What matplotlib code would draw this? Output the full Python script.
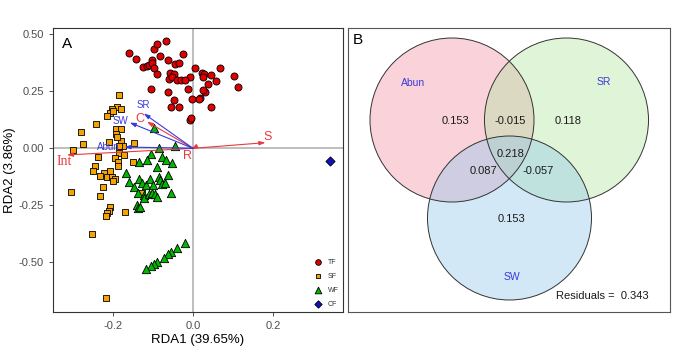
import matplotlib
matplotlib.use("Agg")
import matplotlib.pyplot as plt
from matplotlib.patches import Circle

plt.rcParams['font.family'] = ['Liberation Sans', 'DejaVu Sans']

# ---------------- data: RDA site scores ----------------
tf_x = [-0.161, -0.143, -0.125, -0.115, -0.109, -0.102, -0.102, -0.097, -0.090, -0.097,
        -0.090, -0.067, -0.083, -0.063, -0.044, -0.034, -0.025, -0.058, -0.047, -0.061,
        -0.052, -0.040, -0.030, -0.007, 0.006, 0.023, 0.027, 0.025, 0.045, 0.067,
        0.037, 0.031, 0.025, 0.018, 0.016, 0.058, 0.102, 0.112, -0.105, -0.063,
        -0.048, -0.054, -0.034, -0.013, -0.003, 0.045, -0.008, -0.004, -0.019]
tf_y = [0.417, 0.390, 0.358, 0.361, 0.365, 0.387, 0.373, 0.351, 0.326, 0.436,
        0.456, 0.471, 0.405, 0.387, 0.368, 0.373, 0.414, 0.329, 0.326, 0.303,
        0.312, 0.300, 0.300, 0.314, 0.351, 0.332, 0.326, 0.314, 0.322, 0.351,
        0.282, 0.249, 0.256, 0.219, 0.215, 0.297, 0.317, 0.270, 0.259, 0.249,
        0.212, 0.180, 0.180, 0.259, 0.215, 0.180, 0.124, 0.135, 0.300]

sf_x = [-0.186, -0.189, -0.203, -0.207, -0.199, -0.179, -0.214, -0.242, -0.193, -0.179,
        -0.192, -0.280, -0.275, -0.301, -0.211, -0.179, -0.148, -0.176, -0.184, -0.186,
        -0.237, -0.194, -0.188, -0.187, -0.244, -0.249, -0.222, -0.232, -0.207, -0.215,
        -0.203, -0.194, -0.199, -0.226, -0.305, -0.232, -0.207, -0.211, -0.215, -0.218,
        -0.169, -0.252, -0.218, -0.172, -0.151, -0.128, -0.190]
sf_y = [0.232, 0.183, 0.172, 0.156, 0.165, 0.172, 0.142, 0.107, 0.083, 0.083,
        0.063, 0.070, 0.018, -0.007, 0.026, 0.032, 0.022, 0.010, 0.010, -0.022,
        -0.040, -0.044, -0.059, -0.078, -0.078, -0.098, -0.107, -0.121, -0.100, -0.127,
        -0.127, -0.136, -0.142, -0.168, -0.192, -0.209, -0.259, -0.274, -0.285, -0.297,
        -0.281, -0.376, -0.658, -0.031, -0.058, -0.197, 0.050]

wf_x = [-0.097, -0.086, -0.046, -0.104, -0.115, -0.078, -0.068, -0.053, -0.090, -0.136,
        -0.167, -0.161, -0.148, -0.136, -0.128, -0.118, -0.107, -0.100, -0.086, -0.083,
        -0.078, -0.069, -0.0625, -0.138, -0.123, -0.122, -0.111, -0.102, -0.094, -0.090,
        -0.055, -0.140, -0.138, -0.133,
        -0.019, -0.040, -0.055, -0.0635, -0.0735, -0.090, -0.097, -0.105, -0.117]
wf_y = [0.088, 0.000, 0.010, -0.026, -0.051, -0.037, -0.051, -0.066, -0.080, -0.058,
        -0.107, -0.146, -0.168, -0.136, -0.154, -0.161, -0.136, -0.161, -0.124, -0.139,
        -0.156, -0.151, -0.117, -0.197, -0.205, -0.219, -0.200, -0.197, -0.200, -0.212,
        -0.197, -0.249, -0.263, -0.256,
        -0.414, -0.439, -0.456, -0.465, -0.480, -0.500, -0.507, -0.516, -0.531]

cf_x = [0.343]
cf_y = [-0.057]

# environmental / response vectors
vec_names = ['S', 'Int', 'C', 'R', 'SR', 'SW', 'Abun']
vec_x = [0.181, -0.315, -0.115, -0.004, -0.123, -0.158, -0.171]
vec_y = [0.025, -0.029, 0.117, -0.004, 0.153, 0.113, 0.006]
vec_group = ['red', 'red', 'red', 'red', 'blue', 'blue', 'blue']

# variation partitioning values
venn_sets = ['Abun', 'SR', 'SW']
venn_values = ['0.153', '-0.015', '0.118', '0.218', '0.087', '-0.057', '0.153']
residual = '0.343'

# ---------------- figure ----------------
W, H = 700, 350
fig = plt.figure(figsize=(7, 3.5), dpi=100)

# ---- panel A ----
axA = fig.add_axes([53 / W, (H - 312) / H, 290 / W, 284 / H])
axA.set_xlim(-0.35, 0.375)
axA.set_ylim(-0.718, 0.528)
axA.axhline(0, color='#BEBEBE', lw=1.4, zorder=0)
axA.axvline(0, color='#BEBEBE', lw=1.4, zorder=0)

RED = '#E8393E'
BLUE = '#3A3ADB'
colmap = {'red': RED, 'blue': BLUE}
label_off = {'S': (0.006, 0.026), 'Int': (-0.007, -0.029), 'C': (-0.019, 0.010),
             'R': (-0.009, -0.030), 'SR': (-0.002, 0.037), 'SW': (-0.024, 0.008),
             'Abun': (-0.042, -0.002)}
for name, vx, vy, g in zip(vec_names, vec_x, vec_y, vec_group):
    c = colmap[g]
    axA.annotate('', xy=(vx, vy), xytext=(0, 0),
                 arrowprops=dict(arrowstyle='-|>,head_length=0.35,head_width=0.12',
                                 color=c, lw=0.8, shrinkA=0, shrinkB=0), zorder=4)
    dx, dy = label_off[name]
    if name == 'Int':
        kw = dict(family=['Liberation Serif', 'DejaVu Serif'], fontsize=10)
    elif g == 'red':
        kw = dict(fontsize=9)
    else:
        kw = dict(fontsize=7)
    axA.text(vx + dx, vy + dy, name, color=c, ha='center', va='center', zorder=5, **kw)

mk = dict(edgecolors='black', linewidths=0.6, zorder=3)
axA.scatter(tf_x, tf_y, s=26, marker='o', c='#E00000', label='TF', **mk)
axA.scatter(sf_x, sf_y, s=19, marker='s', c='#F5A300', label='SF', **mk)
axA.scatter(wf_x, wf_y, s=36, marker='^', c='#00B800', label='WF', **mk)
axA.scatter(cf_x, cf_y, s=22, marker='D', c='#1010C0', label='CF', **mk)

leg = axA.legend(loc='lower right', bbox_to_anchor=(1.0, 0.0), frameon=False,
                 fontsize=5, handletextpad=0.4, labelspacing=1.0, borderaxespad=0.2,
                 markerscale=0.8)
for t in leg.get_texts():
    t.set_color('#333333')

axA.set_xticks([-0.2, 0.0, 0.2])
axA.set_xticklabels(['-0.2', '0.0', '0.2'])
axA.set_yticks([-0.5, -0.25, 0.0, 0.25, 0.5])
axA.set_yticklabels(['-0.50', '-0.25', '0.00', '0.25', '0.50'])
axA.tick_params(labelsize=8, labelcolor='#4D4D4D', color='#333333', length=3, width=0.6)
for sp in axA.spines.values():
    sp.set_color('#333333')
    sp.set_linewidth(0.8)
axA.set_xlabel('RDA1 (39.65%)', fontsize=9.5, labelpad=2)
axA.set_ylabel('RDA2 (3.86%)', fontsize=9.5, labelpad=2)
axA.text(0.03, 0.97, 'A', transform=axA.transAxes, fontsize=11, va='top', ha='left')

# ---- panel B (pixel coordinates) ----
axB = fig.add_axes([348 / W, (H - 312) / H, 322 / W, 284 / H])
axB.set_xlim(348, 670)
axB.set_ylim(312, 28)
axB.set_xticks([])
axB.set_yticks([])
for sp in axB.spines.values():
    sp.set_color('#555555')
    sp.set_linewidth(0.8)

centers = [(452, 120), (566.5, 120), (509.5, 218)]
fills = ['#F08FA3', '#B2E59F', '#8FC7EC']
for (cx, cy), fc in zip(centers, fills):
    axB.add_patch(Circle((cx, cy), 82, facecolor=fc, alpha=0.40, edgecolor='none', zorder=1))
for (cx, cy) in centers:
    axB.add_patch(Circle((cx, cy), 82, facecolor='none', edgecolor='#333333', lw=0.7, zorder=2))

set_pos = [(413, 83), (604, 82), (512, 277)]
for name, (x, y) in zip(venn_sets, set_pos):
    axB.text(x, y, name, color='#3A3ADB', fontsize=7.5, ha='center', va='center')
val_pos = [(455, 121), (510, 121), (568, 121), (511, 154), (483, 171), (538, 171), (511, 219)]
for v, (x, y) in zip(venn_values, val_pos):
    axB.text(x, y, v, fontsize=8, ha='center', va='center', color='#1A1A1A')
axB.text(602, 296, 'Residuals =  ' + residual, fontsize=8, ha='center', va='center', color='#1A1A1A')
axB.text(353, 40, 'B', fontsize=11, ha='left', va='center')

fig.savefig('out.png', dpi=100)
